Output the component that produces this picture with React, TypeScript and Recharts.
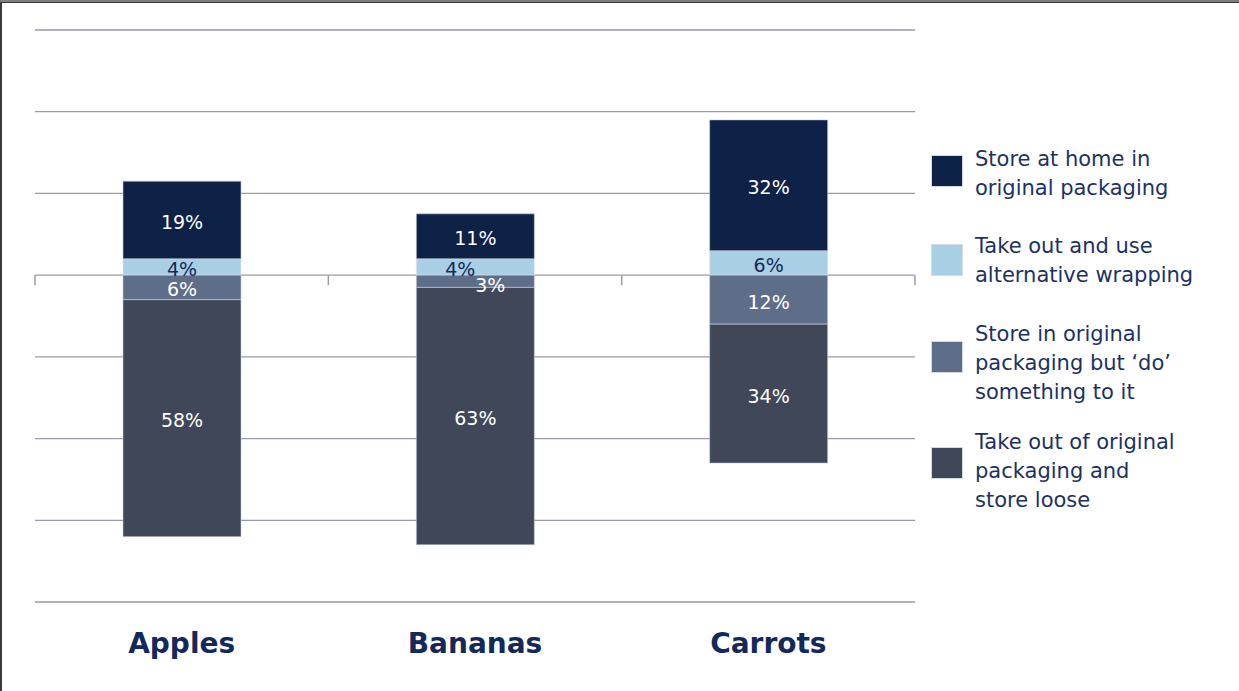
import React from "react";
import { BarChart, Bar, XAxis, YAxis, CartesianGrid, ReferenceLine, LabelList } from "recharts";

const categories = ["Apples", "Bananas", "Carrots"];
const storeOriginal = [19, 11, 32];
const altWrapping = [4, 4, 6];
const doSomething = [6, 3, 12];
const storeLoose = [58, 63, 34];
const yTicks = [-80, -60, -40, -20, 0, 20, 40, 60];

const legendItems = [
  { key: "store", lines: ["Store at home in", "original packaging"], color: "#0e2147" },
  { key: "alt", lines: ["Take out and use", "alternative wrapping"], color: "#a8cfe3" },
  { key: "do", lines: ["Store in original", "packaging but \u2018do\u2019", "something to it"], color: "#5e6d88" },
  { key: "loose", lines: ["Take out of original", "packaging and", "store loose"], color: "#3f4759" },
];

const data = categories.map((c, i) => ({
  name: c,
  store: storeOriginal[i],
  alt: altWrapping[i],
  do: -doSomething[i],
  loose: -storeLoose[i],
}));

const FONT = "'DejaVu Sans', Verdana, sans-serif";
const NAVY_TEXT = "#13295b";

const makeLabel = (series: string) => (props: any) => {
  const { x, y, width, height, value, index } = props;
  const v = Math.abs(Number(value));
  let cx = Number(x) + Number(width) / 2;
  let cy = Number(y) + Number(height) / 2 + 2;
  if (series === "alt" && doSomething[index] < 5) cx -= 15;
  if (series === "do" && v < 5) {
    cx += 15;
    cy += 2;
  }
  const fill = series === "alt" ? NAVY_TEXT : "#ffffff";
  return (
    <text
      x={cx}
      y={cy}
      textAnchor="middle"
      dominantBaseline="central"
      fill={fill}
      fontSize={19}
      fontFamily={FONT}
    >
      {v}%
    </text>
  );
};

const CategoryTick = (props: any) => {
  const { x, y, payload } = props;
  return (
    <text
      x={x}
      y={Number(y) + 41}
      textAnchor="middle"
      dominantBaseline="central"
      fill={NAVY_TEXT}
      fontSize={28}
      fontWeight="bold"
      fontFamily={FONT}
    >
      {payload.value}
    </text>
  );
};

const ZeroTicks = (props: any) => {
  const { x1, x2, y1 } = props;
  const n = categories.length;
  const step = (Number(x2) - Number(x1)) / n;
  const ticks = [];
  for (let k = 0; k <= n; k++) {
    const tx = Number(x1) + k * step;
    ticks.push(<line key={k} x1={tx} x2={tx} y1={Number(y1)} y2={Number(y1) + 10} stroke="#9a9aa8" strokeWidth={1.5} />);
  }
  return <g>{ticks}</g>;
};

const LegendBox = () => {
  const textTops = [0, 87, 175, 283];
  const squareTops = [11, 100, 197, 303];
  return (
    <div style={{ position: "absolute", left: 932, top: 145, width: 300, height: 380, fontFamily: FONT }}>
      {legendItems.map((it, i) => (
        <React.Fragment key={it.key}>
          <div
            style={{
              position: "absolute",
              left: 0,
              top: squareTops[i],
              width: 30,
              height: 30,
              background: it.color,
              boxShadow: "0 0 0 1px #d4d8e0",
            }}
          />
          <div
            style={{
              position: "absolute",
              left: 43,
              top: textTops[i],
              fontSize: 21,
              lineHeight: "29px",
              color: "#1b3262",
              whiteSpace: "nowrap",
              textAlign: "left",
            }}
          >
            {it.lines.map((l, j) => (
              <div key={j}>{l}</div>
            ))}
          </div>
        </React.Fragment>
      ))}
    </div>
  );
};

export default function App() {
  return (
    <div style={{ position: "absolute", left: 0, top: 0, width: 1239, height: 691, background: "#fff" }}>
      <BarChart
        width={1239}
        height={691}
        data={data}
        stackOffset="sign"
        margin={{ top: 30, right: 324, left: 35, bottom: 0 }}
        barSize={118}
      >
        <CartesianGrid vertical={false} stroke="#9a9aa8" strokeWidth={1.3} />
        <YAxis hide domain={[-80, 60]} ticks={yTicks} type="number" allowDataOverflow />
        <XAxis
          dataKey="name"
          height={89}
          axisLine={false}
          tickLine={false}
          tickSize={0}
          tickMargin={0}
          tick={<CategoryTick />}
          interval={0}
        />
        <Bar dataKey="alt" stackId="s" fill="#a8cfe3" stroke="#dfe6ee" strokeWidth={0.6} isAnimationActive={false}>
          <LabelList dataKey="alt" content={makeLabel("alt")} />
        </Bar>
        <Bar dataKey="store" stackId="s" fill="#0e2147" stroke="#c9ceda" strokeWidth={0.6} isAnimationActive={false}>
          <LabelList dataKey="store" content={makeLabel("store")} />
        </Bar>
        <Bar dataKey="do" stackId="s" fill="#5e6d88" stroke="#c9ceda" strokeWidth={0.6} isAnimationActive={false}>
          <LabelList dataKey="do" content={makeLabel("do")} />
        </Bar>
        <Bar dataKey="loose" stackId="s" fill="#3f4759" stroke="#c9ceda" strokeWidth={0.6} isAnimationActive={false}>
          <LabelList dataKey="loose" content={makeLabel("loose")} />
        </Bar>
        <ReferenceLine y={0} stroke="none" shape={<ZeroTicks />} />
      </BarChart>
      <LegendBox />
      <div style={{ position: "absolute", left: 0, top: 0, width: 1239, height: 3, background: "#7f7f7f", borderBottom: "1px solid #3a3a3a", boxSizing: "border-box" }} />
      <div style={{ position: "absolute", left: 0, top: 3, width: 2, height: 688, background: "#3a3a3a" }} />
    </div>
  );
}
